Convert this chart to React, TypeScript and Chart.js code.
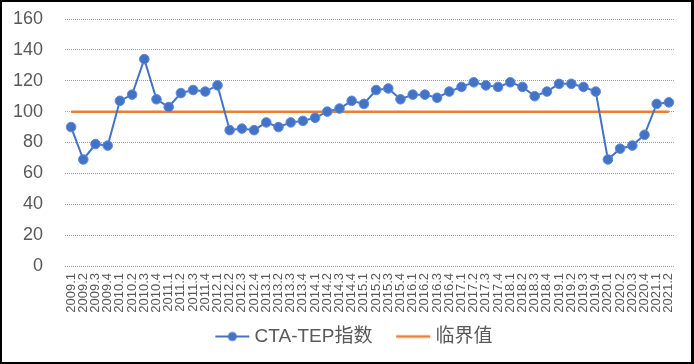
import React, { useEffect, useRef } from "react";
import { Chart, registerables } from "chart.js";

Chart.register(...registerables);

const categories: string[] = [
  "2009.1", "2009.2", "2009.3", "2009.4",
  "2010.1", "2010.2", "2010.3", "2010.4",
  "2011.1", "2011.2", "2011.3", "2011.4",
  "2012.1", "2012.2", "2012.3", "2012.4",
  "2013.1", "2013.2", "2013.3", "2013.4",
  "2014.1", "2014.2", "2014.3", "2014.4",
  "2015.1", "2015.2", "2015.3", "2015.4",
  "2016.1", "2016.2", "2016.3", "2016.4",
  "2017.1", "2017.2", "2017.3", "2017.4",
  "2018.1", "2018.2", "2018.3", "2018.4",
  "2019.1", "2019.2", "2019.3", "2019.4",
  "2020.1", "2020.2", "2020.3", "2020.4",
  "2021.1", "2021.2",
];

const ctaTepIndex: number[] = [
  90, 69, 79, 78,
  107, 111, 134, 108,
  103, 112, 114, 113,
  117, 88, 89, 88,
  93, 90, 93, 94,
  96, 100, 102, 107,
  105, 114, 115, 108,
  111, 111, 109, 113,
  116, 119, 117, 116,
  119, 116, 110, 113,
  118, 118, 116, 113,
  69, 76, 78, 85,
  105, 106,
];

const thresholdValue: number[] = categories.map(() => 100);

const yTicks = { min: 0, max: 160, step: 20 };

const seriesNames = ["CTA-TEP指数", "临界值"];

const BLUE = "#4472C4";
const ORANGE = "#ED7D31";
const TEXT = "#595959";
const FONT = "'Liberation Sans', Arial, 'Noto Sans CJK SC', sans-serif";

// legend icon: 60px wide image, symbol drawn from x=22 to x=56
function makeLegendIcon(color: string, withDot: boolean): HTMLCanvasElement {
  const c = document.createElement("canvas");
  c.width = 60;
  c.height = 12;
  const ctx = c.getContext("2d")!;
  ctx.strokeStyle = color;
  ctx.lineWidth = withDot ? 2 : 2.5;
  ctx.beginPath();
  ctx.moveTo(22, 6);
  ctx.lineTo(56, 6);
  ctx.stroke();
  if (withDot) {
    ctx.fillStyle = color;
    ctx.beginPath();
    ctx.arc(39, 6, 4.5, 0, Math.PI * 2);
    ctx.fill();
  }
  return c;
}

export default function App() {
  const canvasRef = useRef<HTMLCanvasElement | null>(null);

  useEffect(() => {
    if (!canvasRef.current) return;
    const icons = [makeLegendIcon(BLUE, true), makeLegendIcon(ORANGE, false)];
    const chart = new Chart(canvasRef.current, {
      type: "line",
      data: {
        labels: categories,
        datasets: [
          {
            label: seriesNames[0],
            data: ctaTepIndex,
            borderColor: BLUE,
            backgroundColor: BLUE,
            borderWidth: 2,
            pointRadius: 4.8,
            pointBackgroundColor: BLUE,
            pointBorderColor: "#5b8be0",
            pointBorderWidth: 1,
            tension: 0,
            order: 1,
          },
          {
            label: seriesNames[1],
            data: thresholdValue,
            borderColor: ORANGE,
            backgroundColor: ORANGE,
            borderWidth: 2.5,
            pointRadius: 0,
            tension: 0,
            order: 2,
          },
        ],
      },
      options: {
        responsive: false,
        animation: false,
        layout: { padding: { left: 0, right: 0, top: 19, bottom: 8 } },
        plugins: {
          tooltip: { enabled: false },
          legend: {
            position: "bottom",
            labels: {
              usePointStyle: true,
              pointStyleWidth: 43.5,
              padding: 10,
              color: TEXT,
              font: { family: FONT, size: 19 },
              generateLabels: (ch: any) =>
                ch.data.datasets.map((ds: any, i: number) => ({
                  text: ds.label,
                  pointStyle: icons[i],
                  fillStyle: ds.borderColor,
                  strokeStyle: ds.borderColor,
                  lineWidth: 0,
                  hidden: false,
                  datasetIndex: i,
                  fontColor: TEXT,
                })),
            },
          },
        },
        scales: {
          x: {
            offset: true,
            grid: { display: false, drawTicks: false },
            border: { display: false },
            ticks: {
              autoSkip: false,
              maxRotation: 90,
              minRotation: 90,
              padding: 7,
              color: TEXT,
              font: { family: FONT, size: 13 },
            },
            afterFit: (s: any) => {
              s.height = 51;
            },
          },
          y: {
            min: yTicks.min,
            max: yTicks.max,
            grid: {
              display: true,
              color: "#a0a0a0",
              lineWidth: 1,
              drawTicks: false,
            },
            border: { display: false, dash: [1, 1] },
            ticks: {
              stepSize: yTicks.step,
              padding: 22,
              color: TEXT,
              font: { family: FONT, size: 18 },
            },
            afterFit: (s: any) => {
              s.width = 65;
              s.paddingTop = 0;
              s.paddingBottom = 0;
            },
          },
          yRight: {
            position: "right",
            display: true,
            min: yTicks.min,
            max: yTicks.max,
            grid: { display: false, drawTicks: false },
            border: { display: false },
            ticks: { display: false },
            afterFit: (s: any) => {
              s.width = 19;
              s.paddingTop = 0;
              s.paddingBottom = 0;
            },
          },
        },
      },
    });
    return () => chart.destroy();
  }, []);

  return (
    <div
      style={{
        position: "fixed",
        left: 0,
        top: 0,
        width: 694,
        height: 364,
        background: "#ffffff",
      }}
    >
      <canvas ref={canvasRef} width={694} height={364} style={{ position: "absolute", left: 0, top: 0 }} />
      <div
        style={{
          position: "absolute",
          left: 0,
          top: 0,
          width: 694,
          height: 364,
          boxSizing: "border-box",
          borderStyle: "solid",
          borderColor: "#000",
          borderWidth: "2px 3px 2px 2px",
          pointerEvents: "none",
        }}
      />
    </div>
  );
}
